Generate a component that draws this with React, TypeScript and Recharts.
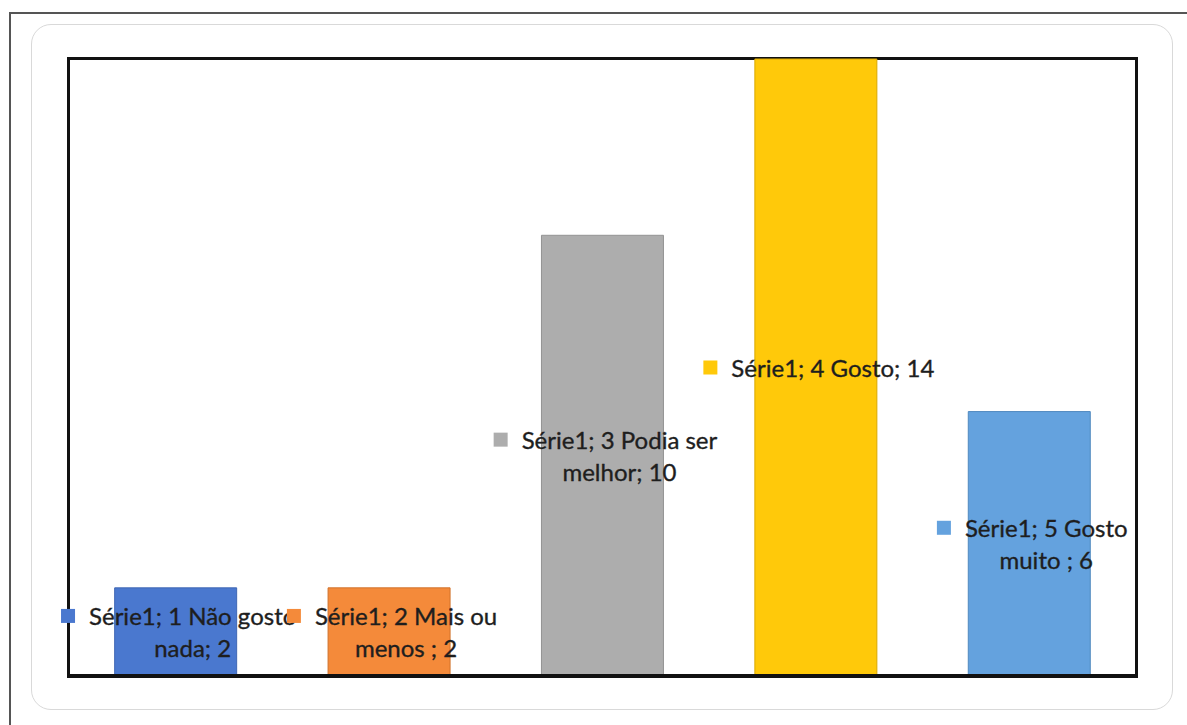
import React from "react";
import { BarChart, Bar, XAxis, YAxis, Cell, LabelList, ReferenceLine } from "recharts";

// Survey answers for Série1
const seriesName = "Série1";
const categories = ["1 Não gosto nada", "2 Mais ou menos ", "3 Podia ser melhor", "4 Gosto", "5 Gosto muito "];
const values = [2, 2, 10, 14, 6];
const colors = ["#4A78CF", "#F48A3A", "#ADADAD", "#FFC90A", "#64A2DE"];
const strokes = ["#3F67B3", "#D0722B", "#939393", "#D9A800", "#5089BF"];

const data = categories.map((c, i) => ({ category: c, value: values[i] }));

const W = 1187;
const H = 725;
const PLOT = { left: 69, top: 59, right: 1136, bottom: 676 };

const FONT_FAMILY = "Lato, 'Open Sans', sans-serif";
const FONT_SIZE = 24;
const LINE_H = 32;
const WRAP_WIDTH = 222;

let ctx: CanvasRenderingContext2D | null = null;
function measure(s: string): number {
  if (!ctx && typeof document !== "undefined") {
    ctx = document.createElement("canvas").getContext("2d");
  }
  if (!ctx) return s.length * FONT_SIZE * 0.5;
  ctx.font = `${FONT_SIZE}px ${FONT_FAMILY}`;
  return ctx.measureText(s).width;
}

function wrap(text: string): string[] {
  const words = text.split(" ");
  const lines: string[] = [];
  let cur = "";
  for (const w of words) {
    const next = cur ? cur + " " + w : w;
    if (cur && measure(next) > WRAP_WIDTH) {
      lines.push(cur);
      cur = w;
    } else {
      cur = next;
    }
  }
  if (cur) lines.push(cur);
  return lines;
}

const KEY = 14;
const KEY_GAP = 14;

const DataLabel = (props: any) => {
  const { x, y, width, height, index } = props;
  const i = index as number;
  const text = `${seriesName}; ${categories[i]}; ${values[i]}`;
  const lines = wrap(text);
  const textW = Math.max(...lines.map(measure));
  const blockW = KEY + KEY_GAP + textW;
  const cx = x + width / 2 + 3;
  const cy = y + height / 2;
  const left = cx - blockW / 2;
  const textCenter = left + KEY + KEY_GAP + textW / 2;
  const firstY = cy - ((lines.length - 1) * LINE_H) / 2;
  return (
    <g>
      <rect x={left} y={firstY - KEY / 2} width={KEY} height={KEY} fill={colors[i]} />
      {lines.map((l, k) => (
        <text
          key={k}
          x={textCenter}
          y={firstY + k * LINE_H}
          textAnchor="middle"
          dominantBaseline="central"
          fontFamily={FONT_FAMILY}
          fontSize={FONT_SIZE}
          fill="#1e1e1e"
          stroke="#1e1e1e"
          strokeWidth={0.35}
        >
          {l}
        </text>
      ))}
    </g>
  );
};

export default function App() {
  return (
    <div style={{ position: "absolute", left: 0, top: 0, width: W, height: H, background: "#fff", overflow: "hidden" }}>
      {/* outer frame */}
      <div style={{ position: "absolute", left: 9, top: 12, width: W, height: H, borderTop: "2px solid #555", borderLeft: "2px solid #555" }} />
      {/* chart area */}
      <div style={{ position: "absolute", left: 31, top: 24, width: 1142, height: 686, border: "1.5px solid #d9d9d9", borderRadius: 20, boxSizing: "border-box" }} />
      {/* plot frame */}
      <div
        style={{
          position: "absolute",
          left: PLOT.left - 2,
          top: PLOT.top - 2,
          width: PLOT.right - PLOT.left + 4,
          height: PLOT.bottom - PLOT.top + 4,
          border: "3.5px solid #111",
          boxSizing: "border-box",
        }}
      />
      <div style={{ position: "absolute", left: 0, top: 0 }}>
        <BarChart
          width={W}
          height={H}
          data={data}
          margin={{ top: PLOT.top, left: PLOT.left, right: W - PLOT.right, bottom: H - PLOT.bottom }}
          barCategoryGap="21.4%"
        >
          <XAxis dataKey="category" hide />
          <YAxis hide domain={[0, 14]} />
          <Bar dataKey="value" isAnimationActive={false} strokeWidth={1}>
            {data.map((d, i) => (
              <Cell key={d.category} fill={colors[i]} stroke={strokes[i]} />
            ))}
            <LabelList dataKey="value" content={DataLabel} />
          </Bar>
          <ReferenceLine y={0} stroke="#111" strokeWidth={4} />
        </BarChart>
      </div>
    </div>
  );
}
